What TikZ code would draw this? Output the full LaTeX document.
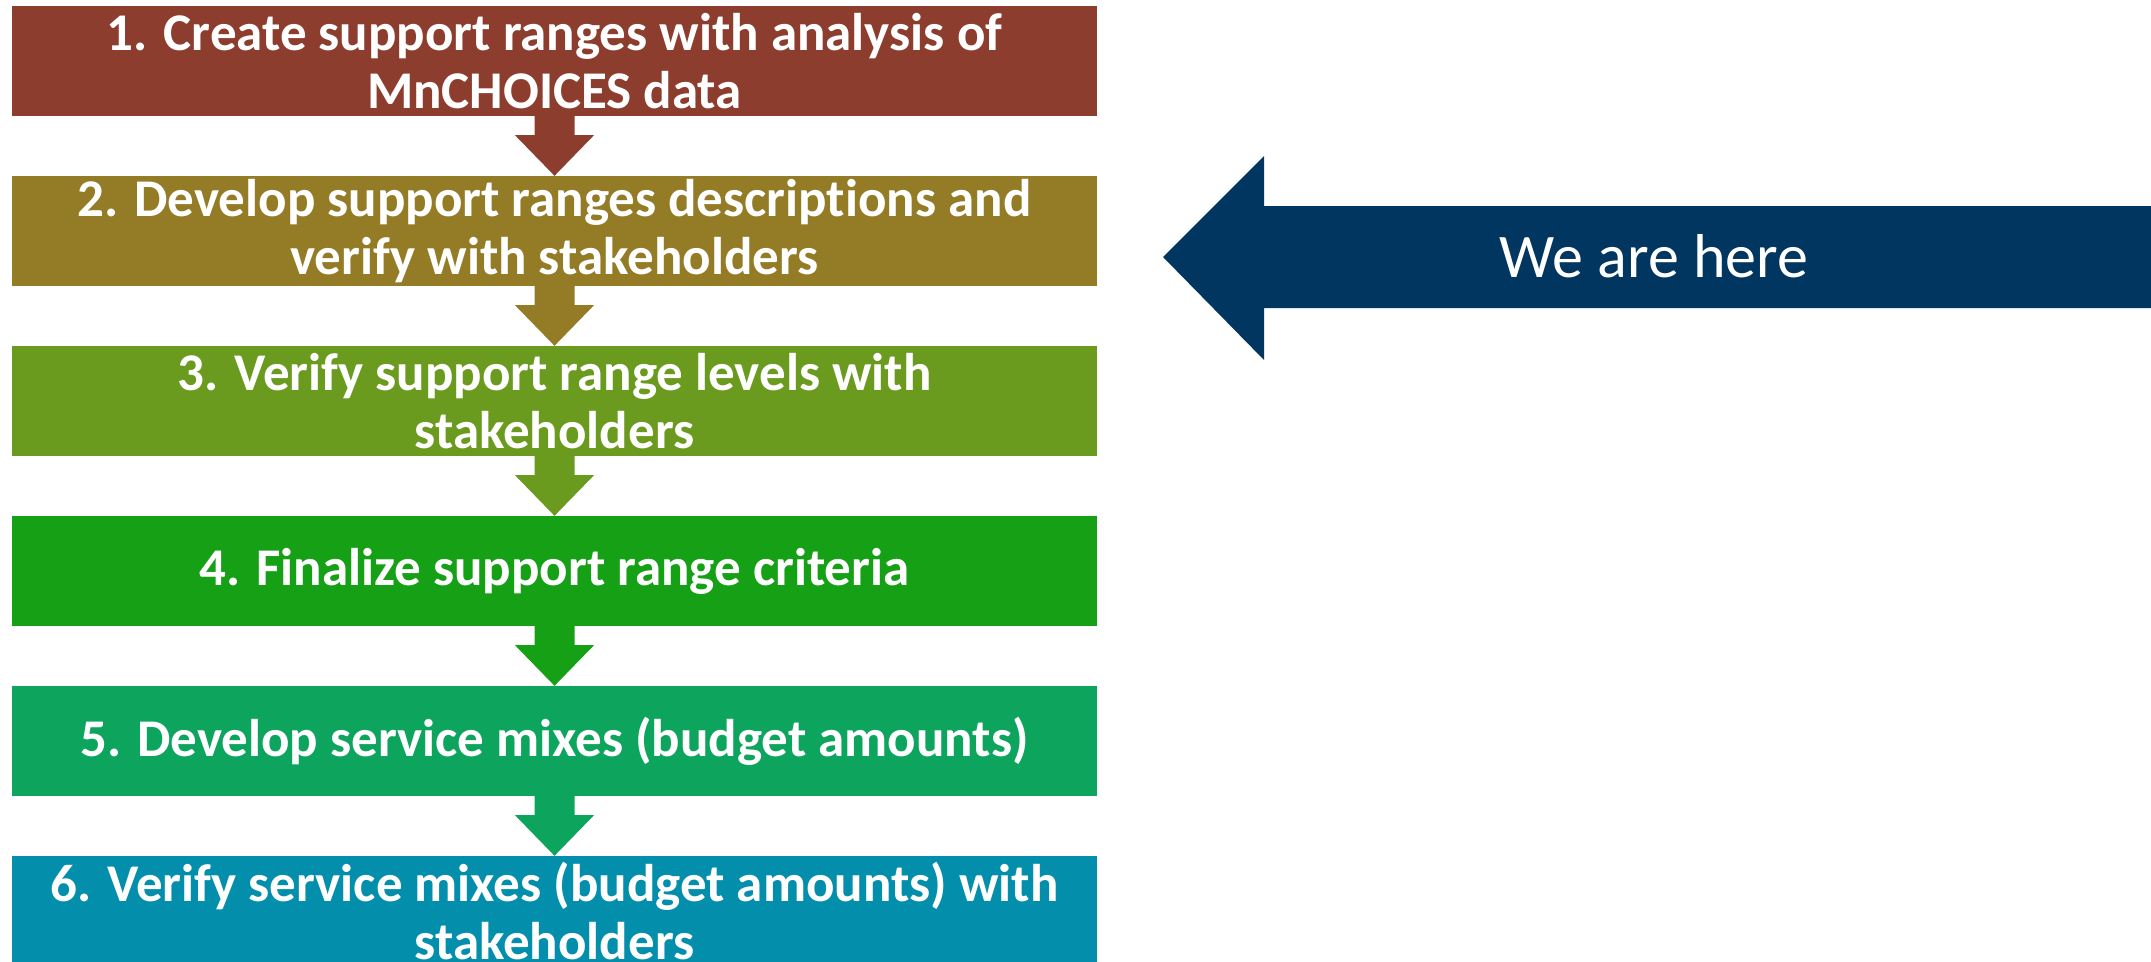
\documentclass[tikz,border=0pt]{standalone}
\usepackage{fontspec}
\setmainfont{Carlito}[Ligatures=NoCommon]
\usetikzlibrary{calc}
\definecolor{c1}{RGB}{140,61,46}
\definecolor{c2}{RGB}{148,124,39}
\definecolor{c3}{RGB}{106,154,30}
\definecolor{c4}{RGB}{21,160,21}
\definecolor{c5}{RGB}{13,165,94}
\definecolor{c6}{RGB}{3,143,172}
\definecolor{navy}{RGB}{0,54,96}
\tikzset{
  stepbox/.style={minimum width=1085pt, minimum height=110pt, inner sep=0pt,
    text=white, align=center, font=\fontsize{53}{58}\selectfont\bfseries},
  heretext/.style={text=white, font=\fontsize{62}{74}\selectfont, inner sep=0pt}
}
\begin{document}
\begin{tikzpicture}[x=1pt,y=-1pt]
\useasboundingbox (0,0) rectangle (2151,961);
\node[stepbox, fill=c1] (b1) at (554.5,61) {1. Create support ranges with analysis of\\MnCHOICES data};
\node[stepbox, fill=c2] (b2) at (554.5,231) {2. Develop support ranges descriptions and\\verify with stakeholders};
\node[stepbox, fill=c3] (b3) at (554.5,401) {3. Verify support range levels with\\stakeholders};
\node[stepbox, fill=c4] (b4) at (554.5,571) {4. Finalize support range criteria};
\node[stepbox, fill=c5] (b5) at (554.5,741) {5. Develop service mixes (budget amounts)};
\node[stepbox, fill=c6] (b6) at (554.5,911) {6. Verify service mixes (budget amounts) with\\stakeholders};
\foreach \a/\b/\c in {b1/b2/c1, b2/b3/c2, b3/b4/c3, b4/b5/c4, b5/b6/c5}
  \fill[\c] ($(\a.south)+(-20,0)$) -- ($(\a.south)+(-20,19)$) -- ($(\a.south)+(-39.5,19)$)
    -- (\b.north) -- ($(\a.south)+(39.5,19)$) -- ($(\a.south)+(20,19)$) -- ($(\a.south)+(20,0)$) -- cycle;
\coordinate (tip) at (1163,257);
\fill[navy] (tip) -- (1264,156) -- (1264,206) -- (2151,206) -- (2151,308) -- (1264,308) -- (1264,360) -- cycle;
\node[heretext] (here) at (1654,256) {We are here};
\end{tikzpicture}
\end{document}
